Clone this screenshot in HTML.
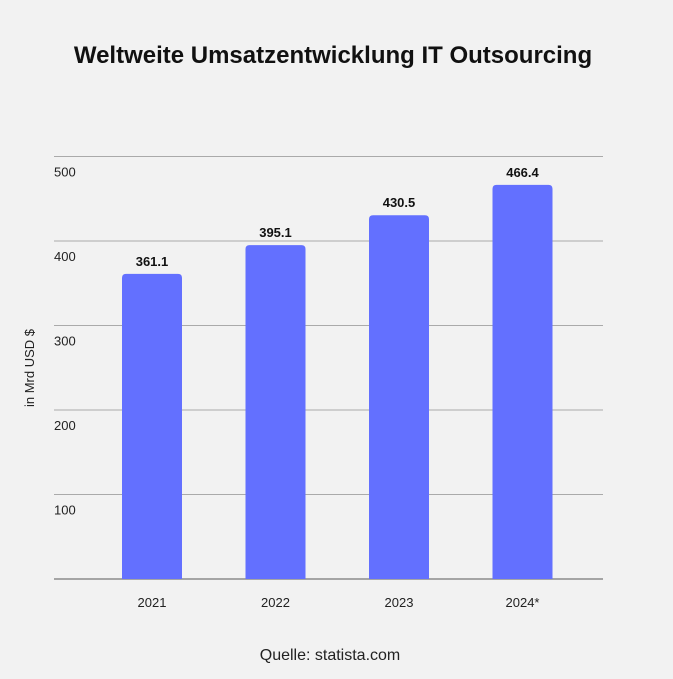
<!DOCTYPE html>
<html><head><meta charset="utf-8"><style>
body{margin:0;background:#f2f2f2;width:673px;height:674px;overflow:hidden;font-family:"Liberation Sans","DejaVu Sans",sans-serif}
</style></head><body>
<svg id="chart" width="673" height="674" xmlns="http://www.w3.org/2000/svg">
<rect width="673" height="674" fill="#f2f2f2"/>
<text x="333" y="63" text-anchor="middle" font-size="24" font-weight="bold" fill="#111">Weltweite Umsatzentwicklung IT Outsourcing</text>
<text x="34" y="368" text-anchor="middle" font-size="13" fill="#222" transform="rotate(-90 34 368)">in Mrd USD $</text>
<text x="330" y="660" text-anchor="middle" font-size="16" fill="#222">Quelle: statista.com</text>
<g id="grid"></g><g id="bars"></g>
</svg>
<script>
const categories=["2021","2022","2023","2024*"];
const values=[361.1,395.1,430.5,466.4];
const valueLabels=["361.1","395.1","430.5","466.4"];
const ticks=[100,200,300,400,500];
const y0=579,scale=0.845,x0=54,x1=603,bw=60,c0=152,step=123.5;
const ns="http://www.w3.org/2000/svg";
const y=v=>y0-v*scale;
const grid=document.getElementById('grid'),bars=document.getElementById('bars');
function mk(tag,attrs,parent){const e=document.createElementNS(ns,tag);for(const k in attrs)e.setAttribute(k,attrs[k]);parent.appendChild(e);return e;}
const base=mk('line',{x1:x0,x2:x1,y1:y0,y2:y0,stroke:'#777','stroke-width':1.2},grid);


ticks.forEach(t=>{
 const l=mk('line',{x1:x0,x2:x1,y1:y(t),y2:y(t),stroke:'#aaa','stroke-width':1},grid);
 
 
 const tx=mk('text',{x:x0,y:y(t)+20,'font-size':13,fill:'#222'},grid);tx.textContent=t;
 
 
});
categories.forEach((c,i)=>{
 const cx=c0+i*step,top=y(values[i]);
 const r=mk('path',{d:`M${cx-bw/2},${y0} L${cx-bw/2},${top+4} Q${cx-bw/2},${top} ${cx-bw/2+4},${top} L${cx+bw/2-4},${top} Q${cx+bw/2},${top} ${cx+bw/2},${top+4} L${cx+bw/2},${y0} Z`,fill:'#6370ff'},bars);
 
 
 const v=mk('text',{x:cx,y:top-8,'text-anchor':'middle','font-size':13,'font-weight':'bold',fill:'#111'},bars);v.textContent=valueLabels[i];
 
 
 const l=mk('text',{x:cx,y:607,'text-anchor':'middle','font-size':13,fill:'#222'},bars);l.textContent=c;
 
 
});
</script>
</body></html>
